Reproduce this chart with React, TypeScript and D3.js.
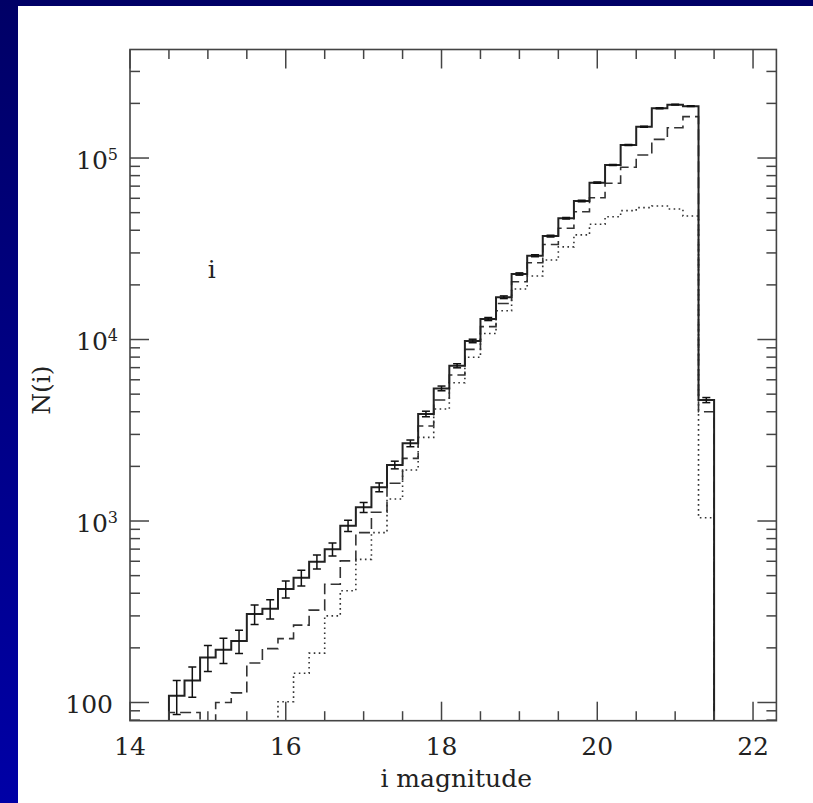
import React from 'react';
import * as d3 from 'd3';

// ---- data ----
const binStart = 14.5;
const binWidth = 0.2;
const totalCounts = [109, 132, 177, 195, 218, 307, 328, 422, 487, 597, 699, 942, 1189, 1535, 2037, 2680, 3890, 5380, 7170, 9820, 12970, 17100, 22960, 28970, 37150, 46550, 57950, 73100, 91500, 118000, 148700, 188000, 196800, 193000, 4640];
const totalErrors = [23, 25, 29, 31, 32, 38, 40, 45, 48, 53, 58, 68, 76, 86, 99, 114, 137, 161, 186, 218, 250, 288, 333, 375, 424, 475, 530, 595, 665, 755, 850, 955, 975, 965, 150];
const dashedCounts = [88, 88, 75, 100, 113, 165, 198, 225, 267, 323, 448, 603, 863, 1117, 1615, 2213, 3337, 4645, 6370, 8830, 11780, 15800, 20800, 26500, 33400, 41000, 50600, 60400, 72600, 88900, 104000, 126700, 146800, 169000, 4000];
const dottedStart = 15.9;
const dottedCounts = [101, 145, 187, 300, 413, 615, 863, 1322, 1910, 2890, 4140, 5780, 7980, 10800, 14400, 18970, 22400, 27400, 32400, 37700, 43200, 47500, 51300, 53300, 54400, 52400, 47900, 1042];

const xMajorTicks = [14, 16, 18, 20, 22];
const xMinorTicks = [14.5, 15, 15.5, 16.5, 17, 17.5, 18.5, 19, 19.5, 20.5, 21, 21.5];
const yLabelTicks = [100, 1000, 10000, 100000];
const yLabels = ['100', '10|3', '10|4', '10|5'];
const xLabel = 'i magnitude';
const yLabel = 'N(i)';
const bandLabel = 'i';

const W = 813;
const H = 803;
const L = 130, R = 776.4, T = 49.5, B = 720.7;
const FLOOR = 30;

export default function App() {
  const x = d3.scaleLinear().domain([14, 22.3]).range([L, R]);
  const y = d3.scaleLog().domain([Math.pow(10, 1.8997), Math.pow(10, 5.598)]).range([B, T]);

  const stepPoints = (start: number, vals: number[]) => {
    const pts: [number, number][] = [[start, FLOOR]];
    vals.forEach((v, i) => {
      pts.push([start + i * binWidth, v]);
      pts.push([start + (i + 1) * binWidth, v]);
    });
    pts.push([start + vals.length * binWidth, FLOOR]);
    return pts;
  };
  const line = d3.line<[number, number]>().x(d => x(d[0])).y(d => y(d[1]));

  const solidPath = line(stepPoints(binStart, totalCounts)) || '';
  const dashedPath = line(stepPoints(binStart, dashedCounts)) || '';
  const dottedPath = line(stepPoints(dottedStart, dottedCounts)) || '';

  // y minor ticks
  const yMinor: number[] = [];
  for (let k = 1; k <= 5; k++) {
    for (let m = 2; m <= 9; m++) {
      const v = m * Math.pow(10, k);
      const [d0, d1] = y.domain();
      if (v > d0 && v < d1) yMinor.push(v);
    }
  }

  const axisColor = '#444';
  const font = '"DejaVu Serif", serif';

  return (
    <svg width={W} height={H} style={{ position: 'absolute', left: 0, top: 0 }} xmlns="http://www.w3.org/2000/svg">
      <defs>
        <linearGradient id="bg" x1="0" y1="0" x2="0" y2="1">
          <stop offset="0" stopColor="#000066" />
          <stop offset="1" stopColor="#0000a6" />
        </linearGradient>
        <clipPath id="plot">
          <rect x={L} y={T} width={R - L} height={B - T} />
        </clipPath>
      </defs>
      <rect x={0} y={0} width={W} height={H} fill="url(#bg)" />
      <rect x={18} y={6} width={W - 18} height={H - 6} fill="#ffffff" />

      <g clipPath="url(#plot)">
        <path d={dottedPath} fill="none" stroke="#333" strokeWidth={1.6} strokeDasharray="1.6 3.4" />
        <path d={dashedPath} fill="none" stroke="#333" strokeWidth={1.6} strokeDasharray="11 5" />
        <path d={solidPath} fill="none" stroke="#222" strokeWidth={2} />
        {totalCounts.map((v, i) => {
          const cx = x(binStart + (i + 0.5) * binWidth);
          const e = totalErrors[i];
          const y0 = y(v - e);
          const y1 = y(v + e);
          return (
            <g key={i} stroke="#111" strokeWidth={1.5}>
              <line x1={cx} x2={cx} y1={y0} y2={y1} />
              <line x1={cx - 4} x2={cx + 4} y1={y0} y2={y0} />
              <line x1={cx - 4} x2={cx + 4} y1={y1} y2={y1} />
            </g>
          );
        })}
      </g>

      {/* frame */}
      <rect x={L} y={T} width={R - L} height={B - T} fill="none" stroke={axisColor} strokeWidth={1.6} />

      {/* x ticks */}
      <g stroke={axisColor} strokeWidth={1.5}>
        {xMajorTicks.map(t => (
          <g key={'xM' + t}>
            <line x1={x(t)} x2={x(t)} y1={B} y2={B - 19} />
            <line x1={x(t)} x2={x(t)} y1={T} y2={T + 19} />
          </g>
        ))}
        {xMinorTicks.map(t => (
          <g key={'xm' + t}>
            <line x1={x(t)} x2={x(t)} y1={B} y2={B - 9.5} />
            <line x1={x(t)} x2={x(t)} y1={T} y2={T + 9.5} />
          </g>
        ))}
        {yLabelTicks.map(t => (
          <g key={'yM' + t}>
            <line x1={L} x2={L + 19} y1={y(t)} y2={y(t)} />
            <line x1={R} x2={R - 19} y1={y(t)} y2={y(t)} />
          </g>
        ))}
        {yMinor.map(t => (
          <g key={'ym' + t}>
            <line x1={L} x2={L + 10} y1={y(t)} y2={y(t)} />
            <line x1={R} x2={R - 10} y1={y(t)} y2={y(t)} />
          </g>
        ))}
      </g>

      {/* tick labels */}
      <g fontFamily={font} fontSize={25} fill="#222">
        {xMajorTicks.map(t => (
          <text key={'xl' + t} x={x(t)} y={B + 34.5} textAnchor="middle">{String(t)}</text>
        ))}
        {yLabelTicks.map((t, i) => {
          const parts = yLabels[i].split('|');
          if (parts.length === 1) {
            return <text key={'yl' + t} x={113} y={y(t) + 10.5} textAnchor="end">{parts[0]}</text>;
          }
          return (
            <text key={'yl' + t} x={118} y={y(t) + 10.5} textAnchor="end">
              {parts[0]}
              <tspan fontSize={16} dy={-9}>{parts[1]}</tspan>
            </text>
          );
        })}
        <text x={(L + R) / 2 + 3} y={787} textAnchor="middle">{xLabel}</text>
        <text transform={`translate(50, ${(T + B) / 2 + 5}) rotate(-90)`} textAnchor="middle">{yLabel}</text>
        <text x={x(15.05)} y={y(21800)} textAnchor="middle">{bandLabel}</text>
      </g>
    </svg>
  );
}
